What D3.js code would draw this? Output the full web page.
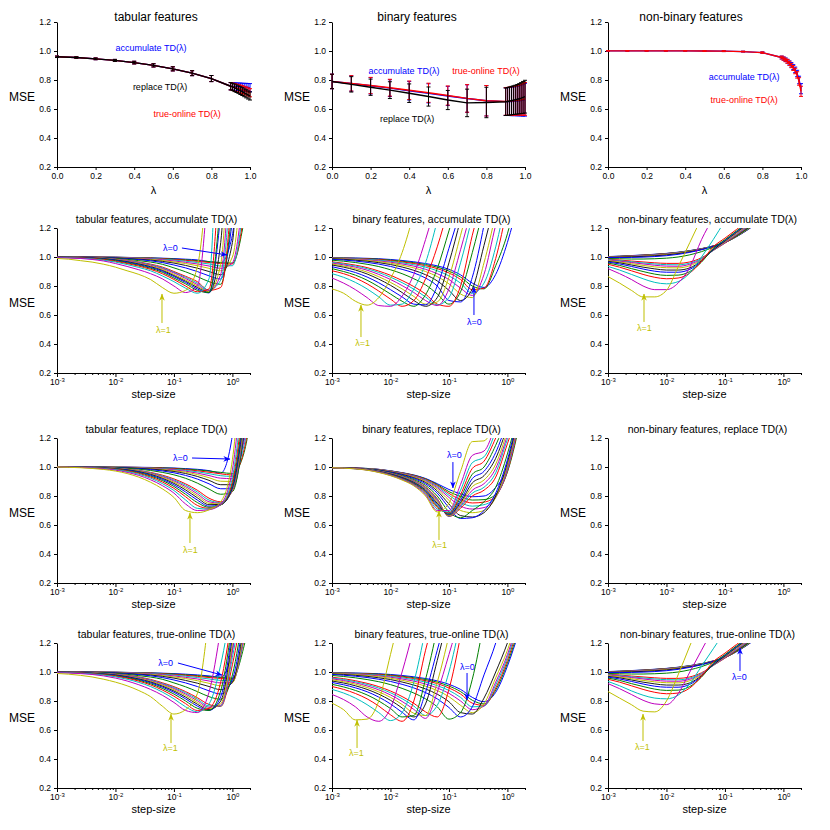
<!DOCTYPE html>
<html lang="en">
<head>
<meta charset="UTF-8">
<title>TD(lambda) step-size sweeps</title>
<script src="https://cdn.jsdelivr.net/npm/d3@7"></script>
<style>
  body { margin: 0; background: #fff; }
  svg { font-family: "Liberation Sans", Arial, sans-serif; }
</style>
</head>
<body>
<div id="chart"></div>
<script>
// ---------- data ----------
const lambdas = [0, 0.1, 0.2, 0.3, 0.4, 0.5, 0.6, 0.7, 0.8, 0.9, 0.91, 0.92, 0.93, 0.94, 0.95, 0.96, 0.97, 0.98, 0.99, 1];
const stepSizes = [0.001, 0.00158, 0.00251, 0.00398, 0.00631, 0.01, 0.0158, 0.0251, 0.0398, 0.0631, 0.1, 0.158, 0.251, 0.398, 0.631, 1, 1.585, 2.512];
const seriesColors = ["#0000ff", "#008000", "#ff0000", "#00bfbf", "#bf00bf", "#bfbf00", "#1a1a1a"];
const yTicks = [0.2, 0.4, 0.6, 0.8, 1.0, 1.2];
const lambdaTicks = [0, 0.2, 0.4, 0.6, 0.8, 1.0];
const decadeTicks = [0.001, 0.01, 0.1, 1];

// best MSE vs lambda (top row)
const tabAccMean = [0.960,0.955,0.946,0.935,0.920,0.901,0.877,0.847,0.810,0.757,0.756,0.755,0.754,0.753,0.752,0.751,0.750,0.749,0.748,0.747];
const tabTrueMean = [0.960,0.955,0.946,0.935,0.920,0.901,0.877,0.847,0.810,0.757,0.754,0.750,0.746,0.742,0.738,0.734,0.729,0.724,0.718,0.712];
const tabRepMean = [0.960,0.955,0.946,0.935,0.920,0.901,0.877,0.847,0.810,0.757,0.752,0.746,0.740,0.734,0.727,0.720,0.712,0.705,0.697,0.690];
const tabErr = [0.005,0.005,0.006,0.007,0.009,0.011,0.014,0.017,0.021,0.025,0.025,0.026,0.026,0.026,0.027,0.027,0.027,0.028,0.028,0.028];

const binAccMean = [0.790,0.776,0.760,0.744,0.726,0.708,0.690,0.672,0.657,0.651,0.651,0.652,0.652,0.653,0.654,0.655,0.657,0.659,0.661,0.664];
const binTrueMean = [0.790,0.777,0.762,0.747,0.729,0.712,0.693,0.673,0.657,0.652,0.653,0.654,0.655,0.656,0.658,0.660,0.662,0.664,0.667,0.670];
const binRepMean = [0.790,0.770,0.750,0.730,0.709,0.686,0.662,0.642,0.645,0.650,0.652,0.655,0.658,0.661,0.664,0.667,0.671,0.675,0.680,0.685];
const binErr = [0.050,0.053,0.056,0.058,0.064,0.066,0.066,0.095,0.105,0.095,0.096,0.097,0.098,0.099,0.100,0.102,0.104,0.107,0.110,0.113];

const nonAccMean = [1.001,1.001,1.001,1.001,1.001,1.000,0.999,0.996,0.989,0.955,0.948,0.940,0.930,0.918,0.905,0.889,0.870,0.845,0.800,0.740];
const nonTrueMean = [1.001,1.001,1.001,1.001,1.001,1.000,0.999,0.996,0.989,0.955,0.947,0.938,0.928,0.915,0.900,0.883,0.862,0.835,0.790,0.722];
const nonErr = [0.002,0.002,0.002,0.002,0.002,0.002,0.003,0.003,0.005,0.010,0.011,0.012,0.013,0.014,0.015,0.017,0.019,0.022,0.026,0.035];

// MSE vs step-size, one row per lambda (same order as lambdas), one value per stepSizes entry
const tabularAccumulate = [
  [1.0,1.0,1.0,1.0,.999,.999,.997,.996,.994,.992,.989,.985,.98,.968,.96,1.15,3.0],
  [1.0,1.0,1.0,1.0,.999,.998,.997,.995,.993,.99,.986,.981,.975,.968,.962,.958,1.25],
  [1.0,1.0,1.0,1.0,.999,.998,.996,.994,.992,.988,.983,.977,.97,.962,.955,.952,1.3],
  [1.0,1.0,1.0,.999,.998,.997,.995,.993,.99,.985,.979,.971,.962,.952,.938,.94,1.4],
  [1.0,1.0,1.0,.999,.998,.996,.994,.991,.987,.981,.973,.963,.952,.938,.922,.96,1.5],
  [1.0,1.0,.999,.999,.997,.995,.992,.988,.983,.976,.966,.955,.94,.922,.905,1.0,1.8],
  [1.0,1.0,.999,.998,.997,.994,.99,.985,.979,.97,.958,.942,.923,.90,.878,1.1,3.0],
  [1.0,1.0,.999,.998,.996,.993,.988,.982,.974,.962,.945,.925,.90,.87,.848,1.25],
  [1.0,.999,.998,.997,.995,.99,.984,.975,.965,.95,.925,.898,.865,.83,.812,1.35],
  [1.0,.999,.998,.996,.993,.986,.978,.966,.951,.931,.90,.867,.83,.77,.79,1.5],
  [.999,.999,.997,.995,.992,.985,.976,.963,.947,.926,.895,.86,.82,.772,.84,1.7],
  [.999,.998,.997,.995,.991,.984,.974,.96,.943,.921,.89,.852,.81,.765,.88,2.0],
  [.999,.998,.997,.994,.99,.982,.971,.956,.938,.915,.88,.842,.80,.76,.95,2.5],
  [.999,.998,.996,.994,.989,.98,.968,.952,.933,.908,.872,.833,.79,.755,1.1,3.0],
  [.999,.997,.996,.993,.987,.978,.965,.948,.928,.902,.865,.825,.78,.752,1.3],
  [.998,.997,.995,.991,.985,.975,.96,.943,.922,.895,.855,.815,.77,.755,1.4],
  [.998,.996,.994,.99,.982,.97,.955,.937,.915,.885,.845,.80,.76,.78,1.8],
  [.997,.995,.992,.987,.978,.965,.948,.928,.905,.87,.83,.785,.75,.85,3.0],
  [.995,.993,.99,.983,.972,.955,.935,.912,.885,.85,.80,.755,.80,1.6],
  [.99,.985,.975,.965,.95,.93,.905,.88,.845,.79,.75,.77,.93,1.7]
];

const binaryAccumulate = [
  [.996,.994,.993,.991,.988,.983,.976,.967,.955,.939,.915,.877,.82,.79,.88,1.1,1.4],
  [.995,.993,.991,.989,.985,.979,.971,.961,.948,.93,.903,.862,.80,.78,.94,1.16,1.5],
  [.994,.992,.99,.987,.982,.975,.966,.955,.94,.92,.89,.845,.775,.785,.99,1.35],
  [.993,.991,.988,.984,.978,.97,.96,.947,.93,.905,.87,.82,.75,.82,1.07,1.45],
  [.992,.989,.985,.98,.973,.964,.952,.937,.915,.885,.845,.785,.735,.88,1.22,1.5],
  [.99,.987,.982,.976,.968,.957,.943,.925,.90,.865,.815,.745,.72,.96,1.3],
  [.988,.984,.978,.971,.961,.948,.931,.908,.878,.835,.77,.70,.78,1.08,1.4],
  [.984,.979,.972,.963,.951,.935,.915,.89,.855,.80,.70,.69,.86,1.22],
  [.978,.971,.962,.95,.934,.912,.885,.85,.808,.745,.675,.76,1.03,1.35],
  [.967,.957,.944,.927,.903,.874,.838,.796,.745,.675,.66,.80,1.15,1.45],
  [.963,.952,.938,.919,.893,.861,.823,.778,.725,.67,.72,.96,1.28],
  [.958,.946,.93,.909,.88,.845,.803,.755,.70,.665,.78,1.05,1.35],
  [.952,.938,.92,.896,.864,.825,.78,.728,.675,.69,.86,1.15,1.45],
  [.945,.93,.91,.883,.847,.805,.755,.70,.66,.72,.96,1.26],
  [.933,.915,.893,.862,.822,.775,.725,.675,.67,.80,1.06,1.32],
  [.92,.90,.875,.84,.795,.745,.695,.66,.74,.92,1.18,1.45],
  [.905,.885,.855,.815,.765,.71,.66,.70,.85,1.07,1.35],
  [.885,.86,.825,.78,.725,.668,.675,.78,.96,1.25],
  [.855,.82,.775,.72,.665,.66,.73,.88,1.12,1.4],
  [.78,.75,.695,.668,.72,.85,1.03,1.3]
];

const nonbinaryAccumulate = [
  [1.003,1.006,1.01,1.014,1.019,1.025,1.033,1.044,1.058,1.076,1.10,1.14,1.19,1.25],
  [1.002,1.005,1.009,1.013,1.018,1.024,1.032,1.043,1.057,1.076,1.10,1.141,1.192,1.252],
  [1.002,1.004,1.008,1.012,1.017,1.023,1.031,1.042,1.056,1.076,1.101,1.142,1.194,1.254],
  [1.001,1.003,1.006,1.01,1.015,1.021,1.03,1.041,1.055,1.075,1.101,1.143,1.196,1.256],
  [1.0,1.002,1.005,1.008,1.013,1.019,1.028,1.039,1.054,1.075,1.102,1.144,1.198,1.258],
  [.999,1.0,1.003,1.006,1.011,1.017,1.026,1.038,1.053,1.074,1.102,1.145,1.2,1.26],
  [.998,.999,1.001,1.004,1.008,1.014,1.023,1.036,1.052,1.074,1.103,1.146,1.202,1.262],
  [.996,.996,.997,.999,1.003,1.009,1.018,1.032,1.05,1.073,1.103,1.147,1.204,1.264],
  [.99,.988,.986,.986,.988,.992,1.0,1.015,1.037,1.067,1.10,1.145,1.2,1.26],
  [.985,.979,.972,.966,.96,.956,.956,.966,.995,1.045,1.095,1.15,1.21],
  [.982,.975,.967,.959,.952,.947,.946,.958,.99,1.045,1.098,1.155,1.215],
  [.979,.971,.962,.952,.943,.937,.936,.95,.985,1.048,1.10,1.16,1.22],
  [.975,.966,.954,.942,.932,.926,.925,.94,.98,1.05,1.105,1.165,1.225],
  [.97,.96,.945,.93,.918,.91,.91,.925,.975,1.05,1.11,1.17,1.23],
  [.965,.952,.935,.917,.902,.895,.895,.915,.97,1.055,1.115,1.175,1.235],
  [.958,.942,.92,.90,.882,.873,.875,.90,.965,1.06,1.12,1.18,1.24],
  [.95,.93,.905,.88,.86,.85,.855,.89,.97,1.07,1.13,1.19,1.25],
  [.935,.91,.88,.85,.825,.815,.83,.89,1.0,1.12,1.25],
  [.92,.885,.845,.80,.775,.775,.82,.93,1.12,1.27],
  [.865,.82,.77,.725,.725,.77,.93,1.1,1.27]
];

const tabularReplace = [
  [1.0,1.0,1.0,1.0,1.0,.999,.999,.998,.997,.995,.993,.989,.984,.975,.958,1.22,3.0],
  [1.0,1.0,1.0,1.0,1.0,.999,.998,.997,.996,.994,.991,.986,.98,.972,.963,.955,1.1,1.6],
  [1.0,1.0,1.0,1.0,1.0,.999,.998,.997,.995,.992,.988,.982,.974,.964,.953,.945,1.12,1.6],
  [1.0,1.0,1.0,1.0,.999,.999,.997,.996,.993,.989,.984,.977,.967,.954,.94,.935,1.15,1.6],
  [1.0,1.0,1.0,1.0,.999,.998,.997,.995,.991,.986,.98,.971,.958,.941,.923,.92,1.18,1.6],
  [1.0,1.0,1.0,1.0,.999,.998,.996,.993,.989,.983,.975,.964,.948,.926,.902,.90,1.22,1.6],
  [1.0,1.0,1.0,.999,.998,.997,.995,.991,.986,.979,.969,.955,.935,.908,.878,.878,1.23],
  [1.0,1.0,1.0,.999,.998,.996,.993,.989,.982,.973,.96,.942,.917,.884,.85,.85,1.24],
  [1.0,1.0,1.0,.999,.997,.995,.991,.985,.976,.963,.946,.922,.889,.848,.812,.83,1.25],
  [1.0,1.0,.999,.998,.996,.992,.986,.977,.963,.944,.918,.884,.84,.785,.76,.835,1.27],
  [1.0,1.0,.999,.998,.996,.992,.985,.975,.96,.939,.911,.875,.828,.772,.755,.84,1.28],
  [1.0,1.0,.999,.998,.995,.991,.984,.973,.957,.934,.904,.865,.815,.76,.75,.845,1.3],
  [1.0,1.0,.999,.997,.995,.99,.983,.971,.953,.928,.896,.854,.802,.75,.745,.85,1.32],
  [1.0,1.0,.999,.997,.994,.989,.981,.968,.949,.922,.887,.842,.788,.74,.742,.855,1.35],
  [1.0,1.0,.999,.997,.993,.988,.979,.965,.944,.915,.877,.828,.772,.73,.74,.865,1.38],
  [1.0,1.0,.998,.996,.992,.987,.976,.961,.938,.907,.866,.812,.755,.722,.738,.88,1.42],
  [1.0,.999,.998,.996,.991,.985,.973,.956,.931,.897,.853,.795,.735,.715,.738,.90,1.5],
  [1.0,.999,.998,.995,.99,.982,.969,.95,.923,.886,.838,.773,.715,.71,.74,.93,1.6],
  [1.0,.999,.997,.993,.987,.978,.963,.942,.912,.872,.82,.745,.70,.705,.745,.98,1.8],
  [1.0,.998,.995,.99,.983,.972,.955,.93,.895,.85,.79,.70,.685,.705,.76,1.05,2.0]
];

const binaryReplace = [
  [.995,.994,.993,.99,.984,.974,.961,.945,.921,.885,.845,.815,.795,.80,.86,1.0,1.4],
  [.995,.994,.993,.99,.983,.973,.96,.943,.918,.879,.83,.797,.772,.775,.81,.965,1.28],
  [.995,.994,.993,.989,.983,.972,.959,.941,.915,.873,.818,.775,.752,.758,.80,.97,1.3],
  [.995,.994,.993,.989,.982,.971,.957,.938,.911,.866,.805,.755,.73,.74,.795,.98,1.32],
  [.995,.994,.993,.988,.981,.97,.955,.935,.906,.858,.79,.73,.71,.72,.79,.99,1.34],
  [.995,.994,.992,.988,.98,.968,.952,.931,.90,.848,.77,.70,.685,.70,.79,1.01,1.36],
  [.995,.994,.992,.987,.979,.966,.949,.926,.893,.835,.745,.665,.655,.685,.80,1.03,1.38],
  [.995,.994,.992,.986,.977,.963,.945,.92,.884,.82,.72,.645,.65,.70,.82,1.05,1.4],
  [.995,.994,.991,.985,.975,.96,.94,.913,.873,.80,.69,.65,.70,.76,.86,1.09,1.4],
  [.995,.994,.991,.984,.973,.957,.936,.906,.862,.782,.658,.715,.80,.84,.93,1.16,1.4],
  [.995,.994,.99,.984,.972,.956,.934,.903,.857,.775,.66,.725,.82,.86,.96,1.19,1.4],
  [.995,.994,.99,.983,.971,.955,.932,.90,.852,.768,.662,.735,.84,.885,.99,1.22],
  [.995,.993,.99,.983,.97,.953,.93,.897,.847,.76,.665,.745,.865,.91,1.02,1.25],
  [.995,.993,.99,.982,.969,.952,.928,.894,.841,.75,.67,.755,.89,.94,1.06,1.28],
  [.995,.993,.989,.982,.968,.95,.925,.89,.835,.74,.675,.77,.92,.97,1.1,1.32],
  [.995,.993,.989,.981,.967,.948,.922,.886,.829,.73,.68,.79,.95,1.0,1.15,1.35],
  [.995,.993,.989,.981,.966,.946,.919,.882,.822,.72,.685,.81,.99,1.04,1.2,1.4],
  [.995,.993,.988,.98,.965,.944,.916,.878,.815,.71,.69,.84,1.03,1.07,1.25],
  [.995,.992,.988,.979,.964,.942,.913,.874,.808,.70,.70,.88,1.08,1.11,1.3],
  [.995,.992,.987,.978,.962,.94,.91,.87,.80,.69,.75,.97,1.175,1.18,1.35]
];

const tabularTrueOnline = [
  [1.0,1.0,1.0,1.0,.999,.999,.997,.996,.994,.992,.989,.985,.98,.973,.965,1.15,3.0],
  [1.0,1.0,1.0,1.0,.999,.998,.997,.995,.993,.99,.986,.981,.975,.968,.962,.958,1.18,1.6],
  [1.0,1.0,1.0,1.0,.999,.998,.996,.994,.992,.988,.983,.977,.97,.962,.955,.95,1.22,1.6],
  [1.0,1.0,1.0,.999,.998,.997,.995,.993,.99,.985,.979,.971,.962,.952,.942,.94,1.25],
  [1.0,1.0,1.0,.999,.998,.996,.994,.991,.987,.981,.973,.963,.952,.938,.925,.93,1.28],
  [1.0,1.0,.999,.999,.997,.995,.992,.988,.983,.976,.966,.955,.94,.922,.905,.925,1.32],
  [1.0,1.0,.999,.998,.997,.994,.99,.985,.979,.97,.958,.942,.923,.90,.878,.93,1.35],
  [1.0,1.0,.999,.998,.996,.993,.988,.982,.974,.962,.945,.925,.90,.87,.848,.95,1.4],
  [1.0,.999,.998,.997,.995,.99,.984,.975,.965,.95,.925,.898,.865,.83,.812,.98,1.45],
  [1.0,.999,.998,.995,.991,.986,.978,.966,.949,.926,.899,.865,.823,.776,.762,1.05,1.5],
  [.999,.999,.997,.995,.99,.985,.976,.963,.945,.921,.893,.857,.813,.766,.765,1.1,1.6],
  [.999,.998,.997,.994,.989,.984,.974,.96,.941,.916,.886,.848,.802,.757,.77,1.15,1.8],
  [.999,.998,.997,.993,.988,.982,.971,.956,.936,.91,.878,.838,.79,.748,.78,1.2,2.0],
  [.999,.998,.996,.992,.987,.98,.968,.952,.931,.903,.869,.827,.778,.74,.80,1.25],
  [.999,.997,.996,.991,.986,.978,.965,.948,.926,.896,.86,.815,.765,.735,.83,1.3],
  [.998,.997,.995,.99,.984,.975,.961,.943,.919,.887,.848,.80,.75,.735,.87,1.35],
  [.998,.996,.994,.989,.982,.972,.957,.937,.911,.876,.833,.782,.735,.75,.93,1.4],
  [.997,.995,.992,.987,.979,.967,.95,.928,.90,.862,.815,.76,.725,.78,1.05,1.5],
  [.995,.993,.989,.983,.973,.958,.938,.912,.88,.84,.79,.735,.72,.86,1.3],
  [.99,.985,.977,.966,.95,.93,.905,.872,.83,.765,.71,.74,.85,1.4]
];

const binaryTrueOnline = [
  [.996,.994,.993,.991,.988,.983,.976,.967,.955,.939,.915,.88,.825,.795,.86,1.04,1.28],
  [.995,.993,.991,.989,.985,.979,.971,.961,.948,.93,.903,.865,.805,.78,.875,1.06,1.3],
  [.994,.992,.99,.987,.982,.975,.966,.955,.94,.92,.89,.848,.785,.77,.89,1.08,1.33],
  [.993,.991,.988,.984,.978,.97,.96,.947,.93,.906,.873,.825,.76,.765,.91,1.1,1.35],
  [.992,.989,.985,.98,.973,.964,.952,.937,.917,.89,.853,.80,.74,.765,.93,1.12,1.38],
  [.99,.987,.982,.976,.968,.957,.943,.925,.902,.872,.83,.77,.72,.78,.96,1.15,1.4],
  [.987,.983,.977,.97,.96,.948,.931,.91,.883,.847,.795,.72,.71,.82,1.0,1.2,1.45],
  [.983,.978,.971,.962,.95,.935,.915,.89,.858,.815,.755,.69,.76,.98,1.2,1.5],
  [.976,.969,.96,.948,.933,.913,.887,.855,.815,.76,.675,.72,.95,1.35],
  [.964,.954,.94,.922,.899,.869,.831,.784,.725,.69,.88,1.25],
  [.959,.948,.933,.914,.889,.857,.816,.765,.70,.77,1.0,1.35],
  [.953,.941,.925,.904,.877,.842,.797,.742,.68,.86,1.12,1.4],
  [.946,.933,.916,.893,.863,.825,.776,.715,.70,.93,1.25],
  [.938,.924,.905,.88,.847,.805,.752,.69,.78,1.08,1.4],
  [.928,.912,.891,.864,.827,.78,.722,.67,.86,1.15,1.45],
  [.915,.897,.873,.842,.80,.748,.69,.70,.95,1.3],
  [.90,.88,.852,.815,.765,.705,.66,.80,1.15,1.45],
  [.88,.855,.82,.775,.72,.665,.72,.93,1.3],
  [.845,.81,.76,.69,.66,.75,1.0,1.3],
  [.785,.74,.67,.675,.80,1.12,1.45]
];

const nonbinaryTrueOnline = [
  [1.003,1.006,1.01,1.014,1.019,1.025,1.033,1.044,1.058,1.076,1.10,1.14,1.19,1.25],
  [1.002,1.005,1.009,1.013,1.018,1.024,1.032,1.043,1.057,1.076,1.10,1.141,1.192,1.252],
  [1.002,1.004,1.008,1.012,1.017,1.023,1.031,1.042,1.056,1.076,1.101,1.142,1.194,1.254],
  [1.001,1.003,1.006,1.01,1.015,1.021,1.03,1.041,1.055,1.075,1.101,1.143,1.196,1.256],
  [1.0,1.002,1.005,1.008,1.013,1.019,1.028,1.039,1.054,1.075,1.102,1.144,1.198,1.258],
  [.999,1.0,1.003,1.006,1.011,1.017,1.026,1.038,1.053,1.074,1.102,1.145,1.2,1.26],
  [.998,.999,1.001,1.004,1.008,1.014,1.023,1.036,1.052,1.074,1.103,1.146,1.202,1.262],
  [.996,.996,.997,.999,1.003,1.009,1.018,1.032,1.05,1.073,1.103,1.147,1.204,1.264],
  [.99,.988,.986,.986,.988,.992,1.0,1.015,1.037,1.067,1.10,1.145,1.2,1.26],
  [.985,.979,.972,.966,.96,.956,.956,.966,.995,1.045,1.095,1.15,1.21],
  [.982,.975,.967,.959,.952,.947,.946,.958,.99,1.045,1.098,1.155,1.215],
  [.979,.971,.962,.952,.943,.937,.936,.95,.985,1.048,1.10,1.16,1.22],
  [.975,.966,.954,.942,.932,.926,.925,.94,.98,1.05,1.105,1.165,1.225],
  [.97,.96,.945,.93,.918,.91,.91,.925,.975,1.05,1.11,1.17,1.23],
  [.965,.952,.935,.917,.902,.895,.895,.915,.97,1.055,1.115,1.175,1.235],
  [.958,.942,.92,.90,.882,.873,.875,.90,.965,1.06,1.12,1.18,1.24],
  [.95,.93,.905,.88,.86,.85,.855,.89,.97,1.07,1.13,1.19,1.25],
  [.935,.905,.87,.84,.82,.815,.84,.92,1.04,1.16,1.28],
  [.92,.885,.845,.805,.78,.775,.85,1.0,1.15,1.3],
  [.865,.82,.775,.73,.725,.80,.98,1.18,1.38]
];

// annotations in data units: [step-size, MSE]
const notesTabAcc = [
  { text: "λ=0", c: 0, at: [0.0873, 1.041], from: [0.137, 1.062], to: [0.81, 1.014] },
  { text: "λ=1", c: 5, at: [0.066, 0.476], from: [0.0625, 0.545], to: [0.0625, 0.745] }
];
const notesBinAcc = [
  { text: "λ=1", c: 5, at: [0.00333, 0.386], from: [0.00313, 0.448], to: [0.00313, 0.669] },
  { text: "λ=0", c: 0, at: [0.2735, 0.531], from: [0.268, 0.60], to: [0.268, 0.793] }
];
const notesNonAcc = [
  { text: "λ=1", c: 5, at: [0.0042, 0.49], from: [0.00413, 0.552], to: [0.00413, 0.745] }
];
const notesTabRep = [
  { text: "λ=0", c: 0, at: [0.129, 1.041], from: [0.204, 1.062], to: [0.91, 1.055] },
  { text: "λ=1", c: 5, at: [0.192, 0.407], from: [0.188, 0.476], to: [0.188, 0.683] }
];
const notesBinRep = [
  { text: "λ=0", c: 0, at: [0.1245, 1.062], from: [0.117, 1.034], to: [0.117, 0.855] },
  { text: "λ=1", c: 5, at: [0.069, 0.441], from: [0.0676, 0.497], to: [0.0676, 0.697] }
];
const notesTabTrue = [
  { text: "λ=0", c: 0, at: [0.0718, 1.041], from: [0.117, 1.062], to: [0.664, 0.979] },
  { text: "λ=1", c: 5, at: [0.0873, 0.455], from: [0.0891, 0.51], to: [0.0891, 0.71] }
];
const notesBinTrue = [
  { text: "λ=0", c: 0, at: [0.2075, 1.014], from: [0.204, 0.993], to: [0.204, 0.807] },
  { text: "λ=1", c: 5, at: [0.00262, 0.421], from: [0.00268, 0.476], to: [0.00268, 0.669] }
];
const notesNonTrue = [
  { text: "λ=0", c: 0, at: [0.1775, 0.945], from: [0.181, 1.007], to: [0.181, 1.166] },
  { text: "λ=1", c: 5, at: [0.00389, 0.462], from: [0.00397, 0.524], to: [0.00397, 0.71] }
];

// ---------- layout ----------
const colLeft = [57, 332, 608];
const rowTop = [22, 228, 438, 643];
const plotW = 193, plotH = 145;
const topTitleX = [156, 417, 691];

const svg = d3.select("#chart").append("svg").attr("width", 830).attr("height", 830);
const defs = svg.append("defs");

[0, 5].forEach(c => {
  defs.append("marker").attr("id", "arrow" + c)
    .attr("viewBox", "0 0 10 10").attr("refX", 9.5).attr("refY", 5)
    .attr("markerWidth", 7).attr("markerHeight", 7)
    .attr("markerUnits", "userSpaceOnUse").attr("orient", "auto")
    .append("path").attr("d", "M0,1 L10,5 L0,9 L3,5 z").attr("fill", seriesColors[c]);
});

const lambdaColor = i => seriesColors[i % seriesColors.length];

function styleAxis(g) {
  g.selectAll("path.domain").attr("stroke", "#000").attr("stroke-width", 1);
  g.selectAll(".tick line").attr("stroke", "#000");
  g.selectAll(".tick text").attr("font-size", 8.5).attr("fill", "#000")
    .attr("font-family", "Liberation Sans, Arial, sans-serif");
}

function frame(row, col, y) {
  const g = svg.append("g").attr("transform", `translate(${colLeft[col]},${rowTop[row]})`);
  g.append("g")
    .call(d3.axisLeft(y).tickValues(yTicks).tickFormat(d3.format(".1f")).tickSize(3).tickSizeOuter(0))
    .call(styleAxis);
  g.append("text").attr("x", -22).attr("y", plotH / 2 + 6)
    .attr("text-anchor", "end").attr("font-size", 12).text("MSE");
  return g;
}

// ---------- top row: best MSE vs lambda ----------
function drawLambdaPanel(col, title, series, labels) {
  const y = d3.scaleLinear().domain([0.2, 1.2]).range([plotH, 0]);
  const x = d3.scaleLinear().domain([0, 1]).range([0, plotW]);
  const g = frame(0, col, y);

  g.append("g").attr("transform", `translate(0,${plotH})`)
    .call(d3.axisBottom(x).tickValues(lambdaTicks).tickFormat(d3.format(".1f")).tickSize(3).tickSizeOuter(0))
    .call(styleAxis);

  series.forEach(s => {
    g.append("path").datum(s.mean)
      .attr("fill", "none").attr("stroke", s.color).attr("stroke-width", 1.4)
      .attr("d", d3.line().x((d, i) => x(lambdas[i])).y(d => y(d)));
    const bars = g.append("g").attr("stroke", s.color).attr("stroke-width", 1)
      .selectAll("g").data(s.mean).join("g")
      .attr("transform", (d, i) => `translate(${x(lambdas[i])},0)`);
    bars.append("line").attr("y1", (d, i) => y(d - s.err[i])).attr("y2", (d, i) => y(d + s.err[i]));
    bars.append("line").attr("x1", -2).attr("x2", 2)
      .attr("y1", (d, i) => y(d - s.err[i])).attr("y2", (d, i) => y(d - s.err[i]));
    bars.append("line").attr("x1", -2).attr("x2", 2)
      .attr("y1", (d, i) => y(d + s.err[i])).attr("y2", (d, i) => y(d + s.err[i]));
  });

  labels.forEach(l => {
    g.append("text").attr("x", x(l.at[0])).attr("y", y(l.at[1]))
      .attr("text-anchor", "middle").attr("font-size", 9).attr("fill", l.color).text(l.text);
  });

  g.append("text").attr("x", topTitleX[col] - colLeft[col]).attr("y", -1)
    .attr("text-anchor", "middle").attr("font-size", 12).text(title);
  g.append("text").attr("x", plotW / 2).attr("y", plotH + 27)
    .attr("text-anchor", "middle").attr("font-size", 11).text("λ");
}

const accC = "#0000ff", trueC = "#ff0000", repC = "#000000";
drawLambdaPanel(0, "tabular features", [
  { color: accC, mean: tabAccMean, err: tabErr },
  { color: trueC, mean: tabTrueMean, err: tabErr },
  { color: repC, mean: tabRepMean, err: tabErr }
], [
  { text: "accumulate TD(λ)", color: accC, at: [0.487, 1.0] },
  { text: "replace TD(λ)", color: repC, at: [0.534, 0.731] },
  { text: "true-online TD(λ)", color: trueC, at: [0.674, 0.545] }
]);
drawLambdaPanel(1, "binary features", [
  { color: accC, mean: binAccMean, err: binErr },
  { color: trueC, mean: binTrueMean, err: binErr },
  { color: repC, mean: binRepMean, err: binErr }
], [
  { text: "accumulate TD(λ)", color: accC, at: [0.373, 0.841] },
  { text: "true-online TD(λ)", color: trueC, at: [0.798, 0.841] },
  { text: "replace TD(λ)", color: repC, at: [0.389, 0.51] }
]);
drawLambdaPanel(2, "non-binary features", [
  { color: accC, mean: nonAccMean, err: nonErr },
  { color: trueC, mean: nonTrueMean, err: nonErr }
], [
  { text: "accumulate TD(λ)", color: accC, at: [0.705, 0.8] },
  { text: "true-online TD(λ)", color: trueC, at: [0.705, 0.641] }
]);

// ---------- rows 2-4: MSE vs step-size ----------
const minorTicks = [];
decadeTicks.forEach(d => { for (let m = 2; m <= 9; m++) if (d * m <= 2) minorTicks.push(d * m); });

function drawStepPanel(row, col, title, curves, notes) {
  const y = d3.scaleLinear().domain([0.2, 1.2]).range([plotH, 0]);
  const x = d3.scaleLog().domain([0.001, 2]).range([0, plotW]);
  const g = frame(row, col, y);

  const clipId = `clip-${row}-${col}`;
  defs.append("clipPath").attr("id", clipId)
    .append("rect").attr("width", plotW).attr("height", plotH);

  if (curves) {
    const line = d3.line().x(d => x(d[0])).y(d => y(d[1])).curve(d3.curveMonotoneX);
    g.append("g").attr("clip-path", `url(#${clipId})`)
      .selectAll("path").data(curves).join("path")
      .attr("fill", "none").attr("stroke-width", 1)
      .attr("stroke", (d, i) => lambdaColor(i))
      .attr("d", vals => line(vals.map((v, k) => [stepSizes[k], v])));
  }

  g.append("g").attr("transform", `translate(0,${plotH})`)
    .call(d3.axisBottom(x).tickValues(minorTicks).tickFormat("").tickSize(2).tickSizeOuter(0))
    .call(styleAxis);
  const xAxis = g.append("g").attr("transform", `translate(0,${plotH})`)
    .call(d3.axisBottom(x).tickValues(decadeTicks).tickSize(4).tickSizeOuter(0))
    .call(styleAxis);
  xAxis.selectAll(".tick text").attr("dy", "0.6em").each(function (d) {
    const t = d3.select(this).text("");
    t.append("tspan").text("10");
    t.append("tspan").attr("dy", "-3.5").attr("font-size", 6).text(Math.round(Math.log10(d)));
  });

  (notes || []).forEach(n => {
    const color = seriesColors[n.c];
    g.append("line")
      .attr("x1", x(n.from[0])).attr("y1", y(n.from[1]))
      .attr("x2", x(n.to[0])).attr("y2", y(n.to[1]))
      .attr("stroke", color).attr("stroke-width", 1)
      .attr("marker-end", `url(#arrow${n.c})`);
    g.append("text").attr("x", x(n.at[0])).attr("y", y(n.at[1]))
      .attr("text-anchor", "middle").attr("font-size", 9).attr("fill", color).text(n.text);
  });

  g.append("text").attr("x", plotW / 2 + 3).attr("y", -5)
    .attr("text-anchor", "middle").attr("font-size", 10.5).text(title);
  g.append("text").attr("x", plotW / 2).attr("y", plotH + 25)
    .attr("text-anchor", "middle").attr("font-size", 11).text("step-size");
}

drawStepPanel(1, 0, "tabular features, accumulate TD(λ)", tabularAccumulate, notesTabAcc);
drawStepPanel(1, 1, "binary features, accumulate TD(λ)", binaryAccumulate, notesBinAcc);
drawStepPanel(1, 2, "non-binary features, accumulate TD(λ)", nonbinaryAccumulate, notesNonAcc);
drawStepPanel(2, 0, "tabular features, replace TD(λ)", tabularReplace, notesTabRep);
drawStepPanel(2, 1, "binary features, replace TD(λ)", binaryReplace, notesBinRep);
drawStepPanel(2, 2, "non-binary features, replace TD(λ)", null, []);
drawStepPanel(3, 0, "tabular features, true-online TD(λ)", tabularTrueOnline, notesTabTrue);
drawStepPanel(3, 1, "binary features, true-online TD(λ)", binaryTrueOnline, notesBinTrue);
drawStepPanel(3, 2, "non-binary features, true-online TD(λ)", nonbinaryTrueOnline, notesNonTrue);
</script>
</body>
</html>
